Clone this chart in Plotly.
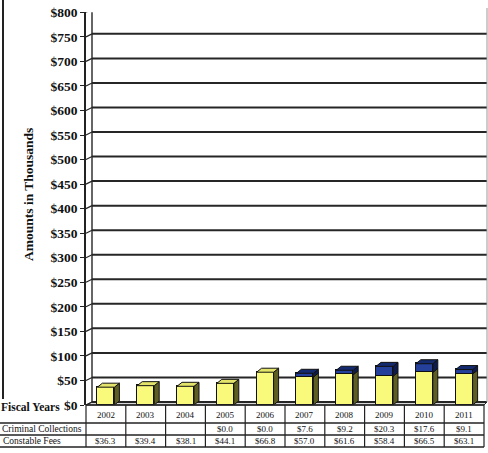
import plotly.graph_objects as go

# Fiscal-year data (amounts in thousands of dollars)
years = ["2002", "2003", "2004", "2005", "2006", "2007", "2008", "2009", "2010", "2011"]
constable_fees = [36.3, 39.4, 38.1, 44.1, 66.8, 57.0, 61.6, 58.4, 66.5, 63.1]
criminal_collections = [None, None, None, 0.0, 0.0, 7.6, 9.2, 20.3, 17.6, 9.1]
row_labels = ["Fiscal Years", "Criminal Collections", "Constable Fees"]

W, H = 488, 453
FONT = "Liberation Serif"

# pixel geometry helpers
def px(x):
    return x / W

def py(y):
    return 1 - y / H

AX_LEFT, AX_RIGHT = 86, 484          # front axis / table column span
Y_TOP, Y_BOT = 12.3, 405             # pixel rows of $800 and $0
UNITS_PER_PX = 800 / (Y_BOT - Y_TOP)
COL_W = (AX_RIGHT - AX_LEFT) / len(years)

# 3-D look: back wall offset and bar depth
WALL_DX, WALL_DY = 6, 3 * UNITS_PER_PX
BAR_W = 17 / COL_W
BAR_DX, BAR_DY = 5 / COL_W, 4 * UNITS_PER_PX

YELLOW, YELLOW_SIDE, YELLOW_TOP = "#F9F97C", "#5E5E22", "#E4E46A"
BLUE, BLUE_SIDE, BLUE_TOP = "#24409A", "#0D1A4E", "#142A6E"
GRID = "#262626"

idx = list(range(len(years)))
fig = go.Figure()

def face(xs, ys, color):
    fig.add_trace(go.Scatter(
        x=xs + [xs[0]], y=ys + [ys[0]], mode="lines", fill="toself",
        fillcolor=color, line=dict(color="#111111", width=1),
        hoverinfo="skip", showlegend=False))

# side and top faces of each bar
for i, (c, k) in enumerate(zip(constable_fees, criminal_collections)):
    r = i + BAR_W / 2
    l = i - BAR_W / 2
    k = k or 0.0
    face([r, r + BAR_DX, r + BAR_DX, r], [0, BAR_DY, c + BAR_DY, c], YELLOW_SIDE)
    if k > 0:
        face([r, r + BAR_DX, r + BAR_DX, r], [c, c + BAR_DY, c + k + BAR_DY, c + k], BLUE_SIDE)
        top, col = c + k, BLUE_TOP
    else:
        top, col = c, YELLOW_TOP
    face([l, l + BAR_DX, r + BAR_DX, r], [top, top + BAR_DY, top + BAR_DY, top], col)

# front faces
fig.add_trace(go.Bar(x=idx, y=constable_fees, width=BAR_W, name=row_labels[2],
                     marker=dict(color=YELLOW, line=dict(color="#111111", width=1)),
                     showlegend=False))
fig.add_trace(go.Bar(x=idx, y=criminal_collections, width=BAR_W, name=row_labels[1],
                     marker=dict(color=BLUE, line=dict(color="#111111", width=1)),
                     showlegend=False))

shapes = []
# chart floor
shapes.append(dict(type="path", xref="paper", yref="paper",
                   path=(f"M {px(AX_LEFT)} {py(Y_BOT)} L {px(AX_LEFT + WALL_DX)} {py(Y_BOT - 3)} "
                         f"L {px(487)} {py(Y_BOT - 3)} L {px(AX_RIGHT)} {py(Y_BOT)} Z"),
                   fillcolor="#d8d8d8", line=dict(color=GRID, width=1), layer="below"))
# back-wall gridlines with side-wall connectors
for v in range(0, 801, 50):
    shapes.append(dict(type="line", xref="paper", yref="y", x0=px(AX_LEFT + WALL_DX), x1=px(487),
                       y0=v + WALL_DY, y1=v + WALL_DY, line=dict(color=GRID, width=2), layer="below"))
    shapes.append(dict(type="line", xref="paper", yref="y", x0=px(AX_LEFT), x1=px(AX_LEFT + WALL_DX),
                       y0=v, y1=v + WALL_DY, line=dict(color=GRID, width=1.2), layer="below"))
# back wall edge and right edge
shapes.append(dict(type="line", xref="paper", yref="y", x0=px(AX_LEFT + WALL_DX), x1=px(AX_LEFT + WALL_DX),
                   y0=WALL_DY, y1=800 + WALL_DY, line=dict(color=GRID, width=1.4), layer="below"))
shapes.append(dict(type="line", xref="paper", yref="paper", x0=px(487), x1=px(487),
                   y0=py(8), y1=py(402), line=dict(color="#999999", width=1), layer="below"))
# outer left border
shapes.append(dict(type="line", xref="paper", yref="paper", x0=px(3), x1=px(3),
                   y0=py(0), y1=py(399), line=dict(color="#222222", width=2)))

# data table grid
for yy, x0 in [(Y_BOT, AX_LEFT), (423, 0), (435, 0), (447, 0)]:
    shapes.append(dict(type="line", xref="paper", yref="paper", x0=px(x0), x1=px(AX_RIGHT),
                       y0=py(yy), y1=py(yy), line=dict(color="#222222", width=1.3)))
for j in range(len(years) + 1):
    xx = AX_LEFT + COL_W * j
    shapes.append(dict(type="line", xref="paper", yref="paper", x0=px(xx), x1=px(xx),
                       y0=py(Y_BOT), y1=py(447), line=dict(color="#222222", width=1.2)))

annotations = []
cell_font = dict(family=FONT, size=9, color="#111111")
for i, yr in enumerate(years):
    annotations.append(dict(x=i, xref="x", y=py(414.5), yref="paper", text=yr,
                            xanchor="center", yanchor="middle", showarrow=False, font=cell_font))
    cc = criminal_collections[i]
    if cc is not None:
        annotations.append(dict(x=i, xref="x", y=py(429), yref="paper", text=f"${cc:.1f}",
                                xanchor="center", yanchor="middle", showarrow=False, font=cell_font))
    annotations.append(dict(x=i, xref="x", y=py(441), yref="paper", text=f"${constable_fees[i]:.1f}",
                            xanchor="center", yanchor="middle", showarrow=False, font=cell_font))

label_font = dict(family=FONT, size=9.5, color="#111111")
annotations.append(dict(x=px(62), xref="paper", y=py(407), yref="paper", text="<b>" + row_labels[0] + "</b>",
                        xanchor="right", yanchor="middle", showarrow=False,
                        font=dict(family=FONT, size=11.5, color="#111111")))
annotations.append(dict(x=px(84), xref="paper", y=py(429), yref="paper", text=row_labels[1],
                        xanchor="right", yanchor="middle", showarrow=False, font=label_font))
annotations.append(dict(x=px(63), xref="paper", y=py(441), yref="paper", text=row_labels[2],
                        xanchor="right", yanchor="middle", showarrow=False, font=label_font))
annotations.append(dict(x=px(28), xref="paper", y=py(195), yref="paper", text="<b>Amounts in Thousands</b>",
                        xanchor="center", yanchor="middle", textangle=-90, showarrow=False,
                        font=dict(family=FONT, size=13.5, color="#111111")))

fig.update_layout(
    template="none",
    width=W, height=H, margin=dict(l=0, r=0, t=0, b=0, autoexpand=False),
    paper_bgcolor="white", plot_bgcolor="rgba(0,0,0,0)",
    barmode="stack", bargap=0, showlegend=False,
    shapes=shapes, annotations=annotations,
    xaxis=dict(domain=[px(AX_LEFT), px(AX_RIGHT)], range=[-0.5, 9.5],
               visible=False, fixedrange=True, automargin=False),
    yaxis=dict(domain=[py(Y_BOT), py(Y_TOP)], range=[0, 800], dtick=50,
               tickprefix="$", showgrid=False, zeroline=False, automargin=False,
               showline=True, linecolor="#222222", linewidth=1.6,
               ticks="outside", ticklen=4, tickcolor="#222222",
               tickfont=dict(family=FONT, size=13.5, color="#111111", weight="bold")),
)

fig.write_html("out.html")
